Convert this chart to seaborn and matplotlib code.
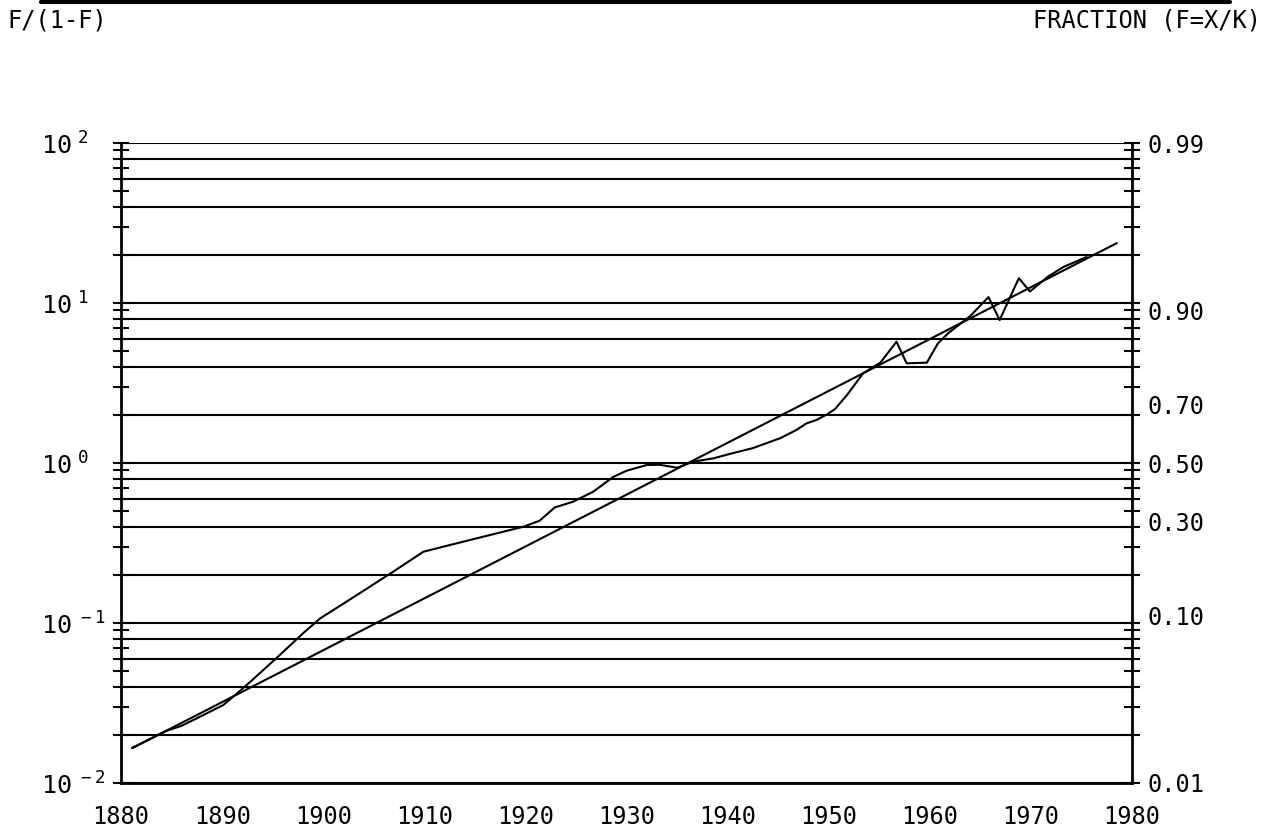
"""Log-odds plot of a substitution fraction F, 1880-1980."""
import math

import matplotlib
matplotlib.use("Agg")
import matplotlib.pyplot as plt
import matplotlib.ticker as mticker
from matplotlib.lines import Line2D
import seaborn as sns

# observed share, as F/(1-F)
years = [1881.1, 1884.5, 1886.0, 1887.5, 1890.1, 1891.4, 1892.8, 1895.7, 1898.0,
         1899.7, 1902.3, 1906.9, 1909.9, 1913.2, 1916.5, 1919.8, 1921.4, 1922.9,
         1924.7, 1926.7, 1928.7, 1930.0, 1932.0, 1933.3, 1935.0, 1936.6, 1938.6,
         1940.2, 1942.5, 1945.2, 1946.8, 1947.8, 1948.8, 1949.8, 1950.6, 1951.8,
         1953.4, 1955.1, 1956.7, 1957.7, 1959.7, 1960.8, 1961.8, 1964.0, 1965.8,
         1966.9, 1968.8, 1969.9, 1971.6, 1973.2, 1975.5]
odds = [0.0166, 0.0212, 0.0228, 0.0254, 0.0307, 0.0360, 0.0430, 0.0631, 0.0863,
        0.107, 0.136, 0.209, 0.279, 0.315, 0.355, 0.400, 0.436, 0.528,
        0.573, 0.662, 0.820, 0.895, 0.972, 0.975, 0.935, 1.02, 1.07,
        1.14, 1.24, 1.43, 1.61, 1.77, 1.86, 2.01, 2.17, 2.66,
        3.64, 4.24, 5.73, 4.20, 4.24, 5.60, 6.47, 8.30, 10.9,
        7.83, 14.3, 11.8, 14.5, 16.8, 19.4]

# logistic fit: a straight line in log-odds
fit_years = [1881.1, 1978.5]
fit_odds = [0.0165, 23.7]

decades = list(range(1880, 1990, 10))
fractions = [0.99, 0.90, 0.70, 0.50, 0.30, 0.10, 0.01]
fraction_labels = ["0.99", "0.90", "0.70", "0.50", "0.30", "0.10", "0.01"]

sns.set_style("white")
plt.rcParams["font.family"] = ["DejaVu Sans Mono", "DejaVu Sans"]
plt.rcParams["text.color"] = "black"
plt.rcParams["xtick.color"] = "black"
plt.rcParams["ytick.color"] = "black"

fig = plt.figure(figsize=(12.69, 8.38), dpi=100)
ax = fig.add_axes([0.0954, 0.0656, 0.7967, 0.7637])

# horizontal rules at 1, 2, 4, 6, 8 of each decade
for e in range(-2, 2):
    for m in (1, 2, 4, 6, 8):
        ax.axhline(m * 10.0 ** e, color="black", lw=1.5, zorder=1)
ax.axhline(100, color="black", lw=1.5, zorder=1)

sns.lineplot(x=fit_years, y=fit_odds, ax=ax, color="black", lw=1.5)
sns.lineplot(x=years, y=odds, ax=ax, color="black", lw=1.5)

ax.set_yscale("log")
ax.set_ylim(0.01, 100)
ax.set_xlim(1880, 1980)
ax.set_xticks(decades)
ax.set_yticks([0.01, 0.1, 1, 10, 100])
ax.yaxis.set_minor_locator(mticker.LogLocator(base=10, subs=range(2, 10)))
ax.yaxis.set_major_formatter(mticker.FuncFormatter(
    lambda v, p: "$\\mathregular{10^{\\ %d}}$" % round(math.log10(v))))
ax.yaxis.set_minor_formatter(mticker.NullFormatter())
ax.set_xlabel("")
ax.set_ylabel("")

for side in ("left", "right", "bottom"):
    ax.spines[side].set_linewidth(2)
    ax.spines[side].set_color("black")
ax.spines["top"].set_visible(False)

# right-hand scale in fractions F
ax2 = ax.twinx()
ax2.set_yscale("log")
ax2.set_ylim(0.01, 100)
ax2.set_yticks([f / (1 - f) for f in fractions])
ax2.set_yticklabels(fraction_labels)
ax2.yaxis.set_minor_locator(mticker.NullLocator())
ax2.tick_params(axis="y", length=0, labelsize=17, pad=11, labelcolor="black")
for s in ax2.spines.values():
    s.set_visible(False)

ax.tick_params(axis="both", which="both", direction="inout", length=12,
               width=1.5, color="black", left=True, right=True)
ax.tick_params(axis="x", labelsize=17, pad=10, labelcolor="black")
ax.tick_params(axis="y", labelsize=18, pad=52, labelcolor="black",
               labelleft=True, labelright=False)
for lbl in ax.get_yticklabels():
    lbl.set_horizontalalignment("left")

fig.text(0.006, 0.975, "F/(1-F)", fontsize=17, ha="left", va="center")
fig.text(0.994, 0.975, "FRACTION (F=X/K)", fontsize=17, ha="right", va="center")
fig.add_artist(Line2D([0.032, 0.969], [0.998, 0.998], color="black", lw=3,
                      transform=fig.transFigure))

fig.savefig("out.png", dpi=100)
